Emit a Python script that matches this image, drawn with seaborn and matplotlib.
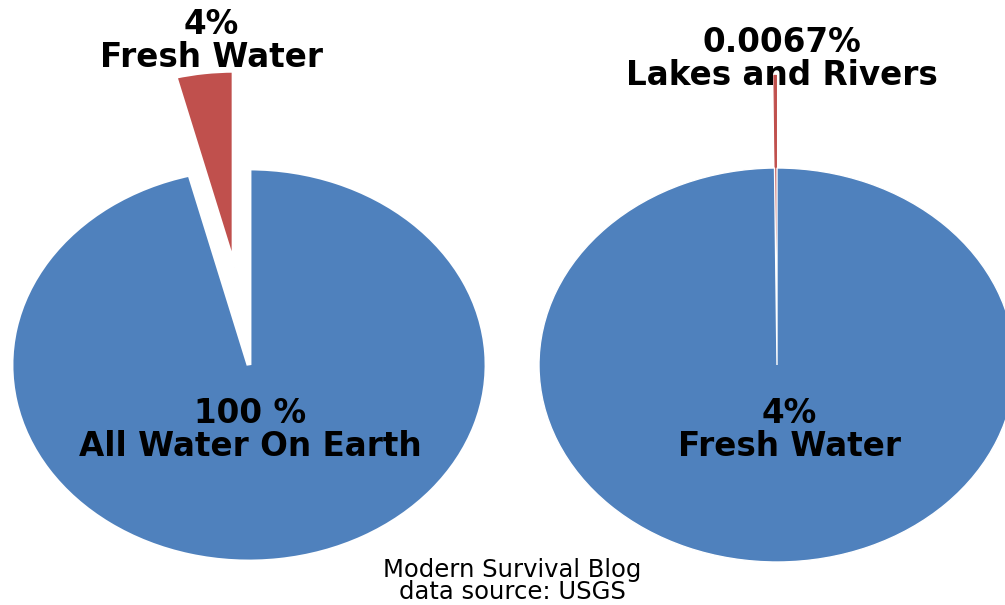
import matplotlib
matplotlib.use("Agg")
import matplotlib.pyplot as plt
import seaborn as sns

# ---- data ----
left_labels = ["Fresh Water", "All Water On Earth"]
left_values = [4, 96]
right_labels = ["Lakes and Rivers", "Fresh Water"]
right_values = [0.0067, 4]
left_top_text = "4%\nFresh Water"
left_main_text = "100 %\nAll Water On Earth"
right_top_text = "0.0067%\nLakes and Rivers"
right_main_text = "4%\nFresh Water"
footer_text = "Modern Survival Blog\ndata source: USGS"

sns.set_theme(style="white")
plt.rcParams['font.family'] = ['DejaVu Sans']
blue, red = "#4F81BD", "#C0504D"

W, H = 1005, 605
fig = plt.figure(figsize=(W / 100, H / 100), dpi=100)
fig.patch.set_facecolor("white")

RX, RY = 238.0, 197.0  # pixels per data unit


def make_axes(x0, x1, cx, cy):
    ax = fig.add_axes([x0 / W, 0, (x1 - x0) / W, 1])
    ax.set_facecolor("white")
    return ax, (x0, x1, cx, cy)


def set_lims(ax, x0, x1, cx, cy):
    ax.set_aspect("auto")
    xmin = -(cx - x0) / RX
    ax.set_xlim(xmin, xmin + (x1 - x0) / RX)
    ymin = -(H - cy) / RY
    ax.set_ylim(ymin, ymin + H / RY)
    ax.axis("off")


# left pie
axL, gL = make_axes(0, 502.5, 249, 365)
axL.pie(left_values, colors=[red, blue], startangle=90, counterclock=True,
        explode=[0.5, 0], radius=1,
        wedgeprops=dict(edgecolor="white", linewidth=3.5))
set_lims(axL, *gL)

# right pie
axR, gR = make_axes(502.5, 1005, 777, 365)
wedges, _ = axR.pie(right_values, colors=[red, blue], startangle=90,
                    counterclock=True, explode=[0.47, 0], radius=1,
                    wedgeprops=dict(edgecolor="white", linewidth=1.0))
wedges[0].set_edgecolor(red)
wedges[0].set_linewidth(0.8)
set_lims(axR, *gR)

bold = dict(fontsize=23.5, fontweight="bold", color="black", ha="center",
            va="center", linespacing=1.0)
fig.text(211 / W, 1 - 41 / H, left_top_text, **bold)
fig.text(250 / W, 1 - 430 / H, left_main_text, **bold)
fig.text(782 / W, 1 - 59 / H, right_top_text, **bold)
fig.text(789 / W, 1 - 430 / H, right_main_text, **bold)
fig.text(512 / W, 1 - 581 / H, footer_text, fontsize=17.5, color="black",
         ha="center", va="center", linespacing=0.88)

fig.savefig("out.png", dpi=100, facecolor="white")
